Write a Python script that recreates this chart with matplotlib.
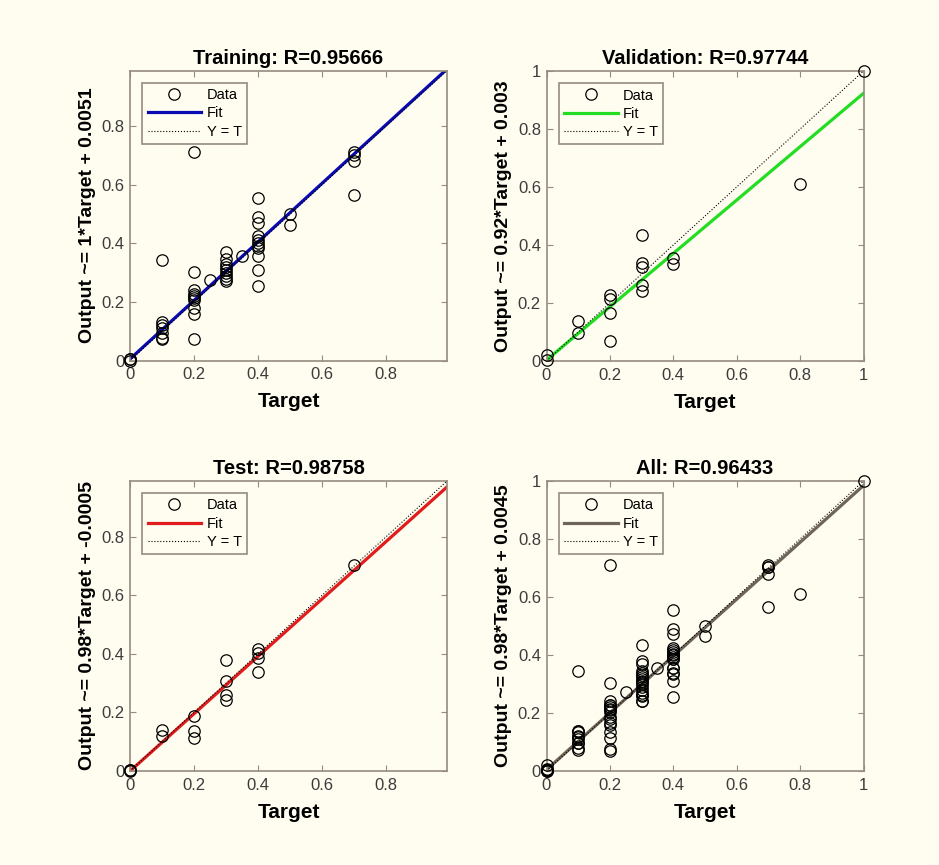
import numpy as np
from matplotlib import pyplot as plt

plt.rcParams["font.family"] = ["Liberation Sans", "DejaVu Sans"]

# ---- data ----
train_t = [0, 0, 0,
           0.1, 0.1, 0.1, 0.1, 0.1, 0.1, 0.1,
           0.2, 0.2, 0.2, 0.2, 0.2, 0.2, 0.2, 0.2, 0.2, 0.2,
           0.25,
           0.3, 0.3, 0.3, 0.3, 0.3, 0.3, 0.3, 0.3, 0.3,
           0.35,
           0.4, 0.4, 0.4, 0.4, 0.4, 0.4, 0.4, 0.4, 0.4, 0.4, 0.4,
           0.5, 0.5,
           0.7, 0.7, 0.7, 0.7]
train_y = [0.0, 0.004, 0.006,
           0.344, 0.133, 0.12, 0.11, 0.095, 0.078, 0.072,
           0.712, 0.303, 0.24, 0.228, 0.22, 0.212, 0.205, 0.18, 0.158, 0.075,
           0.274,
           0.37, 0.345, 0.33, 0.318, 0.31, 0.3, 0.29, 0.278, 0.27,
           0.356,
           0.554, 0.491, 0.471, 0.424, 0.41, 0.4, 0.392, 0.385, 0.356, 0.309, 0.254,
           0.499, 0.464,
           0.712, 0.702, 0.681, 0.565]

val_t = [0, 0, 0.1, 0.1, 0.2, 0.2, 0.2, 0.2, 0.3, 0.3, 0.3, 0.3, 0.3, 0.4, 0.4, 0.8, 1.0]
val_y = [0.019, 0.003, 0.137, 0.097, 0.229, 0.214, 0.164, 0.069,
         0.433, 0.338, 0.324, 0.263, 0.241, 0.355, 0.336, 0.611, 1.0]

test_t = [0, 0, 0, 0.1, 0.1, 0.2, 0.2, 0.2, 0.3, 0.3, 0.3, 0.3, 0.4, 0.4, 0.4, 0.4, 0.7]
test_y = [0.005, 0.0, 0.002, 0.139, 0.118, 0.187, 0.136, 0.113,
          0.378, 0.306, 0.260, 0.242, 0.416, 0.404, 0.387, 0.338, 0.704]

all_t = train_t + val_t + test_t
all_y = train_y + val_y + test_y

titles = ["Training: R=0.95666", "Validation: R=0.97744", "Test: R=0.98758", "All: R=0.96433"]
ylabels = ["Output ~= 1*Target + 0.0051", "Output ~= 0.92*Target + 0.003",
           "Output ~= 0.98*Target + -0.0005", "Output ~= 0.98*Target + 0.0045"]
slopes = [1.0, 0.92, 0.98, 0.98]
offsets = [0.0051, 0.003, -0.0005, 0.0045]
limits = [0.99, 1.0, 0.99, 1.0]
fit_colors = ["#0a0ab4", "#22dd22", "#e01c1c", "#6e6458"]

targets = [train_t, val_t, test_t, all_t]
outputs = [train_y, val_y, test_y, all_y]

bg = "#fffdf0"
spine = "#958c7e"

fig = plt.figure(figsize=(9.39, 8.65), dpi=100, facecolor=bg)

W, H = 939.0, 865.0
boxes = [(130, 360.5), (546.5, 361), (130, 771), (546.5, 771)]

for i in range(4):
    left, bottom = boxes[i]
    ax = fig.add_axes([left / W, 1 - bottom / H, 317 / W, 290 / H])
    ax.set_facecolor(bg)
    lim = limits[i]
    xs = np.array([0, lim])

    ax.plot(targets[i], outputs[i], "o", mfc="none", mec="black", ms=8.2, mew=0.9,
            label="Data", zorder=4, clip_on=False)
    ax.plot(xs, slopes[i] * xs + offsets[i], "-", color=fit_colors[i], lw=2.3,
            label="Fit", zorder=2)
    ax.plot(xs, xs, ":", color="black", lw=0.8, label="Y = T", zorder=2)

    ax.set_xticks([0, 0.2, 0.4, 0.6, 0.8, 1.0])
    ax.set_yticks([0, 0.2, 0.4, 0.6, 0.8, 1.0])
    ax.set_xticklabels(["0", "0.2", "0.4", "0.6", "0.8", "1"])
    ax.set_yticklabels(["0", "0.2", "0.4", "0.6", "0.8", "1"])
    ax.set_xlim(0, lim)
    ax.set_ylim(0, lim)
    ax.tick_params(direction="in", top=True, right=True, length=4, color=spine,
                   labelsize=12, labelcolor="#3c3c3c", pad=5)
    ax.tick_params(axis="y", pad=4)
    for s in ax.spines.values():
        s.set_color(spine)
        s.set_linewidth(1.2)

    ax.set_title(titles[i], fontsize=14.5, fontweight="bold", pad=5)
    ax.set_xlabel("Target", fontsize=15, fontweight="bold", labelpad=7)
    ax.set_ylabel(ylabels[i], fontsize=14, fontweight="bold", labelpad=4)

    leg = ax.legend(loc="upper left", fontsize=10.5, handlelength=3.7, handletextpad=0.35,
                    borderaxespad=0.85, fancybox=False, framealpha=1, borderpad=0.35,
                    labelspacing=0.3)
    leg.get_frame().set_facecolor(bg)
    leg.get_frame().set_edgecolor(spine)
    leg.get_frame().set_linewidth(1.2)

fig.savefig("out.png", dpi=100, facecolor=bg)
